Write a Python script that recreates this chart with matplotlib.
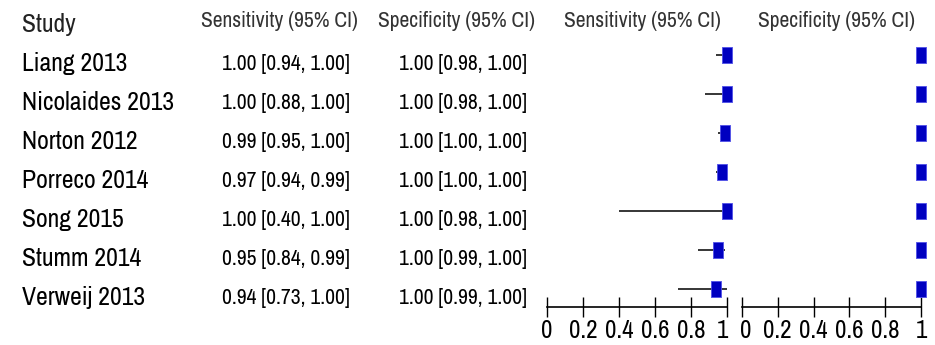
import numpy as np
import matplotlib.pyplot as plt
from matplotlib.transforms import blended_transform_factory, ScaledTranslation

# Dati
studies = ['Liang 2013', 'Nicolaides 2013', 'Norton 2012', 'Porreco 2014',
           'Song 2015', 'Stumm 2014', 'Verweij 2013']
sens = [1.00, 1.00, 0.99, 0.97, 1.00, 0.95, 0.94]
sens_lo = [0.94, 0.88, 0.95, 0.94, 0.40, 0.84, 0.73]
sens_hi = [1.00, 1.00, 1.00, 0.99, 1.00, 0.99, 1.00]
spec = [1.00, 1.00, 1.00, 1.00, 1.00, 1.00, 1.00]
spec_lo = [0.98, 0.98, 1.00, 1.00, 0.98, 0.99, 0.99]
spec_hi = [1.00, 1.00, 1.00, 1.00, 1.00, 1.00, 1.00]
ticks = [0, 0.2, 0.4, 0.6, 0.8, 1]
tick_labels = ['0', '0.2', '0.4', '0.6', '0.8', '1']

plt.rcParams['font.family'] = ['Archivo Narrow', 'Roboto Condensed', 'DejaVu Sans']

W, H = 935, 345
fig = plt.figure(figsize=(W / 100, H / 100), dpi=100)

# posizione assi in pixel (sinistra, alto, larghezza, basso)
def px_axes(left, top, width, bottom):
    return fig.add_axes([left / W, (H - bottom) / H, width / W, (bottom - top) / H])

n = len(studies)
rows = np.arange(n)
ymin, ymax = 6.46, -0.385

ax1 = px_axes(547, 40, 180, 307)
ax2 = px_axes(742, 40, 179, 307)

# marcatore rettangolare (piu' alto che largo)
box = [(-0.294, -0.5), (0.294, -0.5), (0.294, 0.5), (-0.294, 0.5), (-0.294, -0.5)]

for ax, est, lo, hi in [(ax1, sens, sens_lo, sens_hi), (ax2, spec, spec_lo, spec_hi)]:
    ax.hlines(rows, lo, hi, color='black', lw=1.1, zorder=2, clip_on=False)
    ax.plot(est, rows, linestyle='none', marker=box, markersize=12.2,
            markerfacecolor='#0000C0', markeredgecolor='#5050E8',
            markeredgewidth=0.6, zorder=3, clip_on=False)
    ax.set_xlim(0, 1)
    ax.set_ylim(ymin, ymax)
    for s in ['top', 'right', 'left']:
        ax.spines[s].set_visible(False)
    ax.spines['bottom'].set_linewidth(1.2)
    ax.set_yticks([])
    ax.set_xticks(ticks)
    ax.set_xticklabels(tick_labels, fontsize=18)
    ax.tick_params(axis='x', direction='inout', length=14, width=1.0, pad=2)

# sposta un po' le etichette "1" e "0" vicine tra i due assi
lab1 = ax1.get_xticklabels()[-1]
lab1.set_transform(lab1.get_transform() + ScaledTranslation(-5 / 100, 0, fig.dpi_scale_trans))
lab2 = ax2.get_xticklabels()[0]
lab2.set_transform(lab2.get_transform() + ScaledTranslation(4 / 100, 0, fig.dpi_scale_trans))

# colonne di testo
tr = blended_transform_factory(fig.transFigure, ax1.transData)
fig.text(22 / W, 1 - 24 / H, 'Study', fontsize=18.5, va='center', ha='left', color='#222222')
fig.text(358 / W, 1 - 21 / H, 'Sensitivity (95% CI)', fontsize=15.5, va='center', ha='right', color='#333333')
fig.text(535 / W, 1 - 21 / H, 'Specificity (95% CI)', fontsize=15.5, va='center', ha='right', color='#333333')
fig.text(642 / W, 1 - 21 / H, 'Sensitivity (95% CI)', fontsize=15.5, va='center', ha='center', color='#333333')
fig.text(836 / W, 1 - 21 / H, 'Specificity (95% CI)', fontsize=15.5, va='center', ha='center', color='#333333')

for i in range(n):
    y = rows[i] + 0.22
    ax1.text(22 / W, y, studies[i], transform=tr, fontsize=18.5, va='center', ha='left')
    ax1.text(350 / W, y, f'{sens[i]:.2f} [{sens_lo[i]:.2f}, {sens_hi[i]:.2f}]',
             transform=tr, fontsize=15.5, va='center', ha='right')
    ax1.text(527 / W, y, f'{spec[i]:.2f} [{spec_lo[i]:.2f}, {spec_hi[i]:.2f}]',
             transform=tr, fontsize=15.5, va='center', ha='right')

fig.savefig('out.png', dpi=100)
